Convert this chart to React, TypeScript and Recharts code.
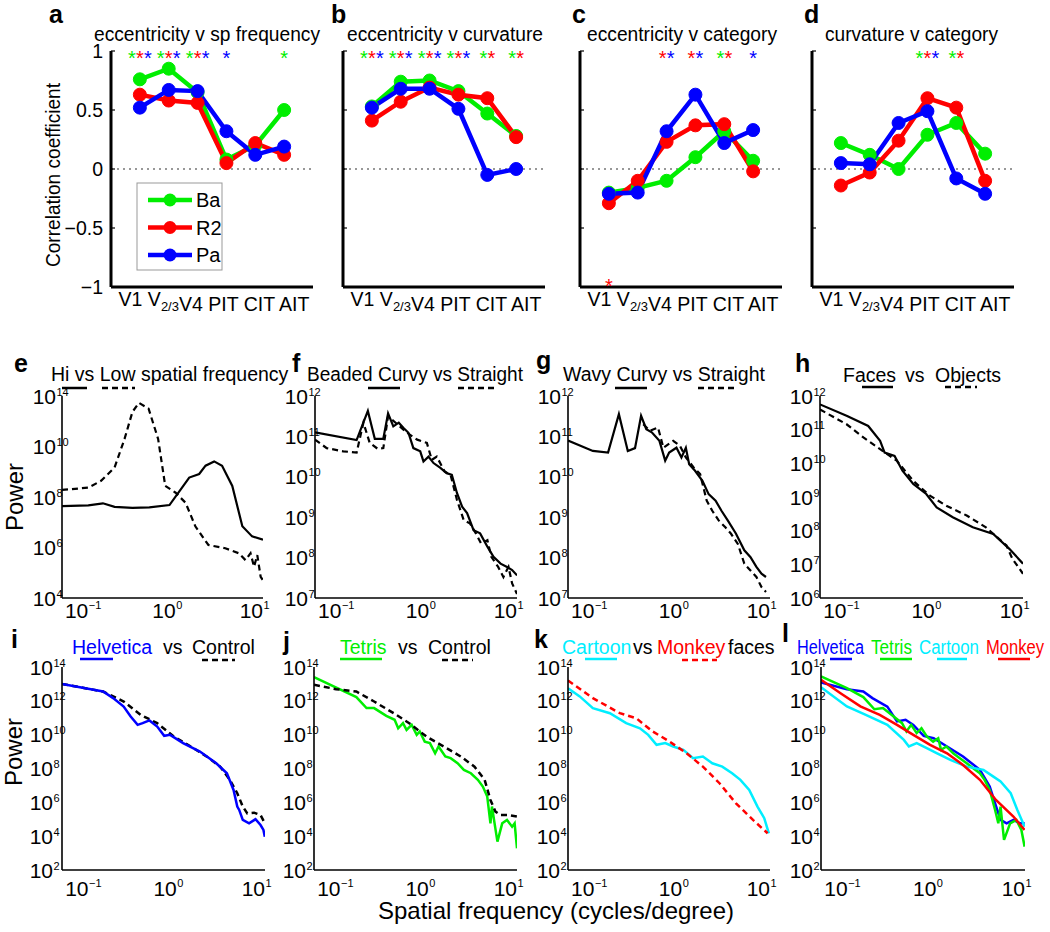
import React from 'react'
import { ComposedChart, LineChart, Line, Scatter, XAxis, YAxis, ReferenceLine } from 'recharts'

const FONT = '"Liberation Sans", Arial, Helvetica, sans-serif'
const GREEN = '#00ee00'
const RED = '#ff0000'
const BLUE = '#0000ff'
const CYAN = '#00eeff'
const BLACK = '#000000'

// ---------- a-d: correlation coefficient per visual area ----------
const areas = ['V1', 'V2/3', 'V4', 'PIT', 'CIT', 'AIT']
const corrTicks = [-1, -0.5, 0, 0.5, 1]
const corrTickLabels = ['\u22121', '\u22120.5', '0', '0.5', '1']
const monkeys = ['Ba', 'R2', 'Pa']

const aBa = [0.76, 0.85, 0.65, 0.08, 0.2, 0.5]
const aR2 = [0.63, 0.58, 0.56, 0.05, 0.22, 0.12]
const aPa = [0.52, 0.67, 0.66, 0.32, 0.12, 0.19]
const aStarsTop = ['GRB', 'GRB', 'GRB', 'B', '', 'G']
const aStarsBottom = ['', '', '', '', '', '']

const bBa = [0.53, 0.74, 0.75, 0.66, 0.47, 0.28]
const bR2 = [0.41, 0.57, 0.69, 0.63, 0.6, 0.27]
const bPa = [0.52, 0.68, 0.68, 0.51, -0.05, 0.0]
const bStarsTop = ['GRB', 'GRB', 'GRB', 'GRB', 'GR', 'GR']
const bStarsBottom = ['', '', '', '', '', '']

const cBa = [-0.2, -0.16, -0.1, 0.1, 0.32, 0.07]
const cR2 = [-0.29, -0.1, 0.23, 0.37, 0.38, -0.02]
const cPa = [-0.21, -0.2, 0.32, 0.63, 0.22, 0.33]
const cStarsTop = ['', '', 'RB', 'RB', 'GR', 'B']
const cStarsBottom = ['R', '', '', '', '', '']

const dBa = [0.22, 0.12, 0.0, 0.29, 0.39, 0.13]
const dR2 = [-0.14, -0.03, 0.24, 0.6, 0.52, -0.1]
const dPa = [0.05, 0.04, 0.39, 0.49, -0.08, -0.21]
const dStarsTop = ['', '', '', 'GRB', 'GR', '']
const dStarsBottom = ['', '', '', '', '', '']

// ---------- e-l: power spectra, [cycles/degree, log10 power] ----------
const freqTicks = [0.1, 1, 10]
const freqTickExps = ['\u22121', '0', '1']

const eYExps = [4, 6, 8, 10, 12]
const eYLabels = ['4', '6', '8', '10', '14']
const eHi = [[0.05, 7.64], [0.1, 7.67], [0.147, 7.75], [0.2, 7.61], [0.32, 7.57], [0.5, 7.59], [0.85, 7.68], [1.15, 8.31], [1.43, 8.77], [1.86, 8.91], [2.2, 9.24], [2.76, 9.41], [3.4, 9.24], [4.45, 8.44], [5.8, 6.84], [7.5, 6.44], [10, 6.31]]
const eLow = [[0.05, 8.28], [0.1, 8.37], [0.14, 8.64], [0.2, 9.17], [0.26, 10.3], [0.32, 11.37], [0.38, 11.73], [0.49, 11.5], [0.63, 10.3], [0.76, 8.44], [1.0, 8.17], [1.3, 7.77], [1.68, 6.84], [2.37, 6.1], [3.7, 5.97], [5.3, 5.77], [6.3, 5.5], [7.2, 5.77], [7.9, 5.24], [8.6, 5.7], [9.4, 4.84], [10, 4.7]]

const fgYExps = [7, 8, 9, 10, 11, 12]
const fgYLabels = ['7', '8', '9', '10', '11', '12']
const fCurvy = [[0.05, 11.1], [0.149, 10.91], [0.2, 11.63], [0.24, 10.94], [0.3, 10.94], [0.34, 11.57], [0.39, 11.25], [0.45, 11.34], [0.51, 11.21], [0.58, 11.09], [0.66, 10.71], [0.79, 10.63], [0.86, 10.38], [0.98, 10.5], [1.12, 10.34], [1.34, 10.22], [1.58, 10.09], [1.81, 10.05], [2.07, 9.6], [2.37, 9.26], [2.7, 9.1], [3.2, 8.68], [3.8, 8.6], [4.6, 8.27], [5.4, 8.02], [6.5, 7.85], [7.7, 7.77], [8.8, 7.69], [10, 7.56]]
const fStraight = [[0.05, 10.92], [0.068, 10.71], [0.105, 10.63], [0.149, 10.6], [0.178, 11.34], [0.21, 10.84], [0.26, 10.69], [0.3, 10.71], [0.34, 11.5], [0.56, 11.09], [0.73, 10.92], [0.94, 10.84], [1.07, 10.42], [1.22, 10.5], [1.5, 10.13], [1.75, 10.05], [2.07, 9.43], [2.47, 8.93], [2.9, 8.85], [3.4, 8.6], [3.9, 8.35], [4.6, 8.43], [5.1, 8.02], [6.1, 7.77], [7.0, 7.52], [8.0, 7.77], [8.8, 7.36], [10, 7.1]]
const gCurvy = [[0.05, 10.9], [0.096, 10.64], [0.143, 10.6], [0.19, 11.55], [0.24, 10.64], [0.29, 10.71], [0.34, 11.51], [0.39, 11.18], [0.45, 11.1], [0.55, 10.89], [0.64, 10.4], [0.71, 10.6], [0.86, 10.72], [0.98, 10.48], [1.1, 10.72], [1.2, 10.31], [1.4, 10.15], [1.7, 9.9], [2.0, 9.57], [2.4, 9.41], [2.8, 9.16], [3.3, 8.92], [4.1, 8.59], [5.1, 8.18], [6.0, 8.01], [7.0, 7.77], [8.0, 7.6], [9.0, 7.52]]
const gStraight = [[0.36, 11.3], [0.43, 11.14], [0.53, 11.22], [0.61, 10.72], [0.79, 10.89], [0.94, 10.77], [1.1, 10.48], [1.35, 10.23], [1.6, 10.07], [1.9, 9.41], [2.2, 9.16], [2.6, 8.92], [3.1, 8.75], [3.6, 8.59], [4.3, 8.34], [5.1, 7.85], [6.0, 7.68], [7.0, 7.52], [8.0, 7.27], [9.0, 7.15]]

const hYExps = [6, 7, 8, 9, 10, 11, 12]
const hYLabels = ['6', '7', '8', '9', '10', '11', '12']
const hFaces = [[0.05, 11.75], [0.1, 11.41], [0.176, 11.11], [0.24, 10.67], [0.27, 10.32], [0.35, 10.22], [0.43, 9.78], [0.57, 9.39], [0.8, 9.09], [1.05, 8.69], [1.6, 8.4], [2.7, 8.1], [4.6, 7.9], [7.0, 7.46], [10, 7.02]]
const hObjects = [[0.05, 11.6], [0.1, 11.16], [0.155, 10.77], [0.24, 10.42], [0.37, 10.08], [0.57, 9.48], [0.88, 9.04], [1.35, 8.74], [2.3, 8.45], [3.8, 8.1], [6.5, 7.56], [7.6, 7.16], [10, 6.72]]

const lowYExps = [2, 4, 6, 8, 10, 12, 14]
const lowYLabels = ['2', '4', '6', '8', '10', '12', '14']
const iHelvetica = [[0.05, 13.0], [0.146, 12.55], [0.19, 12.16], [0.25, 11.66], [0.3, 11.07], [0.36, 10.58], [0.41, 10.68], [0.49, 10.84], [0.6, 10.48], [0.72, 9.93], [0.84, 9.99], [1.18, 9.5], [1.83, 9.0], [2.8, 8.31], [3.7, 7.72], [4.4, 6.73], [4.85, 5.75], [5.1, 5.55], [5.6, 4.96], [6.6, 4.76], [7.8, 5.0], [8.9, 4.66], [9.6, 4.37], [9.95, 3.97]]
const iControl = [[0.05, 13.0], [0.146, 12.55], [0.25, 11.96], [0.39, 11.17], [0.6, 10.68], [0.93, 9.89], [1.44, 9.3], [2.2, 8.7], [3.1, 8.11], [4.0, 7.33], [4.85, 6.54], [5.6, 5.75], [6.3, 5.35], [7.5, 5.39], [8.9, 5.25], [9.95, 4.76]]
const jTetris = [[0.05, 13.4], [0.151, 12.22], [0.197, 11.57], [0.24, 11.57], [0.33, 11.11], [0.41, 10.88], [0.45, 10.38], [0.51, 10.68], [0.56, 10.28], [0.64, 10.58], [0.73, 9.99], [0.79, 10.19], [0.9, 9.59], [1.03, 9.5], [1.18, 8.9], [1.29, 9.3], [1.54, 8.71], [1.77, 8.61], [2.12, 8.31], [2.5, 7.92], [3.0, 7.72], [3.6, 7.33], [4.1, 6.93], [4.6, 6.34], [5.0, 4.76], [5.2, 5.75], [6.0, 3.68], [6.8, 4.76], [7.7, 4.96], [8.8, 4.56], [9.4, 4.76], [10, 3.28]]
const jControl = [[0.05, 12.95], [0.089, 12.69], [0.151, 12.55], [0.24, 11.96], [0.4, 11.27], [0.6, 10.68], [0.94, 9.89], [1.48, 9.3], [2.3, 8.71], [3.3, 8.11], [4.3, 7.33], [5.0, 6.14], [5.7, 5.45], [6.5, 5.25], [8.1, 5.25], [10, 5.16]]
const kCartoon = [[0.05, 12.75], [0.068, 12.26], [0.096, 11.57], [0.15, 11.27], [0.23, 10.68], [0.33, 10.38], [0.41, 9.99], [0.51, 9.4], [0.64, 9.5], [0.79, 9.3], [1.03, 9.1], [1.33, 8.61], [1.72, 8.71], [2.2, 8.31], [2.86, 8.11], [3.7, 7.72], [4.6, 7.33], [5.8, 6.73], [7.2, 5.75], [8.6, 5.06], [9.7, 4.17]]
const kMonkey = [[0.05, 13.2], [0.096, 12.16], [0.195, 11.27], [0.3, 10.97], [0.46, 10.19], [0.72, 9.59], [1.12, 8.9], [1.72, 8.11], [2.66, 7.13], [4.1, 5.94], [6.4, 4.96], [9.4, 4.17]]
const lHelvetica = [[0.05, 13.08], [0.098, 12.69], [0.15, 12.55], [0.19, 12.16], [0.28, 11.66], [0.36, 10.78], [0.45, 10.88], [0.55, 10.58], [0.72, 9.93], [0.93, 9.79], [1.32, 9.3], [2.0, 8.71], [3.1, 7.92], [4.0, 6.93], [4.6, 5.94], [5.3, 4.96], [6.2, 4.76], [7.4, 4.96], [8.8, 4.76], [9.9, 4.76]]
const lTetris = [[0.05, 13.44], [0.098, 12.75], [0.15, 12.22], [0.2, 11.5], [0.25, 11.57], [0.33, 11.07], [0.41, 10.68], [0.46, 10.19], [0.52, 10.58], [0.6, 10.09], [0.68, 10.38], [0.78, 9.89], [0.92, 9.59], [1.05, 9.79], [1.13, 9.1], [1.3, 9.3], [1.55, 8.9], [1.84, 8.61], [2.2, 8.31], [2.6, 8.01], [3.1, 7.72], [3.5, 7.33], [4.0, 6.73], [4.6, 5.55], [5.0, 4.76], [5.3, 5.75], [5.8, 3.78], [6.8, 4.76], [8.0, 4.96], [9.1, 4.37], [9.9, 3.38]]
const lCartoon = [[0.05, 12.8], [0.098, 11.67], [0.16, 11.17], [0.28, 10.58], [0.43, 9.69], [0.49, 9.3], [0.6, 9.5], [0.78, 9.2], [1.02, 8.9], [1.44, 8.51], [2.2, 8.11], [3.4, 7.92], [4.4, 7.52], [5.3, 7.23], [6.9, 6.54], [8.2, 5.55], [9.9, 4.56]]
const lMonkey = [[0.05, 13.24], [0.083, 12.45], [0.139, 11.67], [0.23, 11.17], [0.36, 10.58], [0.55, 9.99], [0.85, 9.4], [1.32, 8.9], [2.0, 8.21], [3.1, 7.33], [4.7, 6.14], [7.4, 5.16], [9.9, 4.37]]

// ---------- layout ----------
const starColors: Record<string, string> = { G: GREEN, R: RED, B: BLUE }
const STAR_Y = 0.965

const TW = 202
const TH = 236
const TTOP = 51
const TYW = 50
const TMT = 10
const TMR = 10
const TXH = 10

type TopProps = {
  left: number
  ba: number[]
  r2: number[]
  pa: number[]
  starsTop: string[]
  starsBottom: string[]
  yLabels: boolean
}

const starShape = (p: any) => {
  const s: string = p.payload.s
  const n = s.length
  return (
    <text y={p.cy + 10} fontFamily={FONT} fontSize={20} textAnchor="middle">
      {s.split('').map((c, i) => (
        <tspan key={i} x={p.cx + (i - (n - 1) / 2) * 8} fill={starColors[c]}>*</tspan>
      ))}
    </text>
  )
}

const corrTick = (p: any) => (
  <text x={TYW - 8} y={p.y + 7} textAnchor="end" fontFamily={FONT} fontSize={19.5} fill="#000">
    {corrTickLabels[corrTicks.indexOf(p.payload.value)]}
  </text>
)
const noTick = () => <g />

function TopPanel({ left, ba, r2, pa, starsTop, starsBottom, yLabels }: TopProps) {
  const rows = areas.map((_, i) => ({ x: i + 1, ba: ba[i], r2: r2[i], pa: pa[i] }))
  const stars = [
    ...starsTop.map((s, i) => ({ x: i + 1, y: STAR_Y, s })),
    ...starsBottom.map((s, i) => ({ x: i + 1, y: -STAR_Y, s })),
  ].filter((d) => d.s)
  const series = [
    { key: 'ba', color: GREEN },
    { key: 'r2', color: RED },
    { key: 'pa', color: BLUE },
  ]
  return (
    <div style={{ position: 'absolute', left: left - TYW, top: TTOP - TMT }}>
      <ComposedChart width={TYW + TW + TMR} height={TMT + TH + TXH} data={rows} margin={{ top: TMT, right: TMR, bottom: 0, left: 0 }}>
        <XAxis dataKey="x" type="number" domain={[0, 7]} ticks={[1, 2, 3, 4, 5, 6]} height={TXH} axisLine={{ stroke: '#000', strokeWidth: 3 }} tickLine={false} tick={false} />
        <YAxis
          type="number"
          domain={[-1, 1]}
          ticks={corrTicks}
          width={TYW}
          axisLine={{ stroke: '#000', strokeWidth: 3 }}
          tickLine={{ stroke: '#000', strokeWidth: 1.2 }}
          tickSize={-4}
          tick={yLabels ? corrTick : noTick}
          interval={0}
        />
        <ReferenceLine y={0} stroke="#333" strokeDasharray="2 4" strokeWidth={1.2} />
        {series.map((s) => (
          <Line
            key={s.key}
            dataKey={s.key}
            type="linear"
            stroke={s.color}
            strokeWidth={4.5}
            dot={{ r: 6.5, fill: s.color, stroke: s.color, strokeWidth: 1 }}
            isAnimationActive={false}
          />
        ))}
        <Scatter data={stars} dataKey="y" shape={starShape} isAnimationActive={false} />
      </ComposedChart>
    </div>
  )
}

type Curve = { pts: number[][]; color: string; dash?: boolean }
type LogProps = {
  left: number
  top: number
  w: number
  h: number
  yExps: number[]
  yLabels: string[]
  curves: Curve[]
  xGap: number
  yGap: number
  width: number
}

const LYW = 50
const LMT = 15
const LMR = 15
const LXH = 40

function LogPanel({ left, top, w, h, yExps, yLabels, curves, xGap, yGap, width }: LogProps) {
  const xTick = (p: any) => {
    const i = freqTicks.findIndex((t) => Math.abs(t - p.payload.value) < 1e-9)
    const base = LMT + h + xGap
    return (
      <g>
        <text x={p.x} y={base} textAnchor="end" fontFamily={FONT} fontSize={21} fill="#000">10</text>
        <text x={p.x + 0.5} y={base - 9} fontFamily={FONT} fontSize={11} fill="#000">{freqTickExps[i]}</text>
      </g>
    )
  }
  const yTick = (p: any) => {
    const e = Math.log10(p.payload.value)
    const i = yExps.findIndex((t) => Math.abs(t - e) < 0.01)
    const xr = LYW - yGap
    return (
      <g>
        <text x={xr} y={p.y + 7.5} textAnchor="end" fontFamily={FONT} fontSize={21} fill="#000">10</text>
        <text x={xr + 0.5} y={p.y - 0.5} fontFamily={FONT} fontSize={11} fill="#000">{yLabels[i]}</text>
      </g>
    )
  }
  return (
    <div style={{ position: 'absolute', left: left - LYW, top: top - LMT }}>
      <LineChart width={LYW + w + LMR} height={LMT + h + LXH} margin={{ top: LMT, right: LMR, bottom: 0, left: 0 }}>
        <XAxis dataKey="x" type="number" scale="log" domain={[0.05, 10]} allowDataOverflow ticks={freqTicks} interval={0} height={LXH} axisLine={{ stroke: '#000', strokeWidth: 1.6 }} tickLine={false} tick={xTick} />
        <YAxis type="number" scale="log" domain={[10 ** yExps[0], 10 ** yExps[yExps.length - 1]]} allowDataOverflow ticks={yExps.map((e) => 10 ** e)} interval={0} width={LYW} axisLine={{ stroke: '#000', strokeWidth: 1.6 }} tickLine={false} tick={yTick} />
        {curves.map((c, i) => (
          <Line
            key={i}
            data={c.pts.map(([x, e]) => ({ x, y: 10 ** e }))}
            dataKey="y"
            type="linear"
            stroke={c.color}
            strokeWidth={width}
            strokeDasharray={c.dash ? '6 4' : undefined}
            dot={false}
            isAnimationActive={false}
          />
        ))}
      </LineChart>
    </div>
  )
}

const topPanels: TopProps[] = [
  { left: 111, ba: aBa, r2: aR2, pa: aPa, starsTop: aStarsTop, starsBottom: aStarsBottom, yLabels: true },
  { left: 343, ba: bBa, r2: bR2, pa: bPa, starsTop: bStarsTop, starsBottom: bStarsBottom, yLabels: false },
  { left: 580, ba: cBa, r2: cR2, pa: cPa, starsTop: cStarsTop, starsBottom: cStarsBottom, yLabels: false },
  { left: 812, ba: dBa, r2: dR2, pa: dPa, starsTop: dStarsTop, starsBottom: dStarsBottom, yLabels: false },
]

const midPanels: LogProps[] = [
  { left: 62, top: 396, w: 201, h: 202, yExps: eYExps, yLabels: eYLabels, curves: [{ pts: eHi, color: BLACK }, { pts: eLow, color: BLACK, dash: true }], xGap: 20, yGap: 6, width: 2.2 },
  { left: 315, top: 396, w: 202, h: 202, yExps: fgYExps, yLabels: fgYLabels, curves: [{ pts: fCurvy, color: BLACK }, { pts: fStraight, color: BLACK, dash: true }], xGap: 20, yGap: 7, width: 2.2 },
  { left: 568, top: 396, w: 202, h: 202, yExps: fgYExps, yLabels: fgYLabels, curves: [{ pts: gCurvy, color: BLACK }, { pts: gStraight, color: BLACK, dash: true }], xGap: 20, yGap: 7, width: 2.2 },
  { left: 820, top: 396, w: 203, h: 202, yExps: hYExps, yLabels: hYLabels, curves: [{ pts: hFaces, color: BLACK }, { pts: hObjects, color: BLACK, dash: true }], xGap: 20, yGap: 7, width: 2.2 },
]

const lowPanels: LogProps[] = [
  { left: 62, top: 667, w: 203, h: 203, yExps: lowYExps, yLabels: lowYLabels, curves: [{ pts: iControl, color: BLACK, dash: true }, { pts: iHelvetica, color: BLUE }], xGap: 26, yGap: 9, width: 2.5 },
  { left: 314, top: 667, w: 203, h: 203, yExps: lowYExps, yLabels: lowYLabels, curves: [{ pts: jTetris, color: GREEN }, { pts: jControl, color: BLACK, dash: true }], xGap: 26, yGap: 8, width: 2.5 },
  { left: 568, top: 667, w: 202, h: 203, yExps: lowYExps, yLabels: lowYLabels, curves: [{ pts: kCartoon, color: CYAN }, { pts: kMonkey, color: RED, dash: true }], xGap: 26, yGap: 8, width: 2.5 },
  { left: 821, top: 667, w: 204, h: 203, yExps: lowYExps, yLabels: lowYLabels, curves: [{ pts: lHelvetica, color: BLUE }, { pts: lTetris, color: GREEN }, { pts: lCartoon, color: CYAN }, { pts: lMonkey, color: RED }], xGap: 26, yGap: 8, width: 2.5 },
]

// text helpers for the overlay
const T = ({ x, y, s = 19.5, fill = '#000', w, anchor, bold, children }: any) => (
  <text x={x} y={y} fontSize={s} fill={fill} fontFamily={FONT} fontWeight={bold ? 700 : 400} textAnchor={anchor} textLength={w} lengthAdjust={w ? 'spacingAndGlyphs' : undefined}>
    {children}
  </text>
)
const U = ({ x1, x2, y, color = '#000', dash }: any) => (
  <line x1={x1} x2={x2} y1={y} y2={y} stroke={color} strokeWidth={2.5} strokeDasharray={dash ? '6 4' : undefined} />
)

function AreaLabel({ cx }: { cx: number }) {
  return (
    <text x={cx} y={306} textAnchor="middle" fontFamily={FONT} fontSize={19.5} fill="#000">
      {areas.map((a, i) => {
        const sep = i === 0 ? '' : ' '
        if (a.includes('/')) {
          return (
            <React.Fragment key={a}>
              <tspan>{sep + a[0]}</tspan>
              <tspan fontSize={13} dy={5}>{a.slice(1)}</tspan>
              <tspan dy={-5}>{''}</tspan>
            </React.Fragment>
          )
        }
        return <tspan key={a}>{(areas[i - 1] || '').includes('/') ? a : sep + a}</tspan>
      })}
    </text>
  )
}

const legendColors = [GREEN, RED, BLUE]

export default function App() {
  return (
    <div style={{ position: 'relative', width: 1050, height: 932, background: '#fff', overflow: 'hidden' }}>
      <style>{'body{margin:0}'}</style>
      {topPanels.map((p, i) => <TopPanel key={i} {...p} />)}
      {midPanels.map((p, i) => <LogPanel key={i} {...p} />)}
      {lowPanels.map((p, i) => <LogPanel key={i} {...p} />)}
      <svg width={1050} height={932} style={{ position: 'absolute', left: 0, top: 0, pointerEvents: 'none' }}>
        {/* panel letters */}
        <T x={49} y={23} s={25} bold>a</T>
        <T x={331} y={23} s={25} bold>b</T>
        <T x={572} y={23} s={25} bold>c</T>
        <T x={804} y={23} s={25} bold>d</T>
        <T x={14} y={372} s={25} bold>e</T>
        <T x={292} y={372} s={25} bold>f</T>
        <T x={536} y={369} s={25} bold>g</T>
        <T x={795} y={372} s={25} bold>h</T>
        <T x={11} y={648} s={25} bold>i</T>
        <T x={283} y={650} s={25} bold>j</T>
        <T x={534} y={648} s={25} bold>k</T>
        <T x={782} y={642} s={25} bold>l</T>

        {/* top row */}
        <T x={94} y={41} w={226}>eccentricity v sp frequency</T>
        <T x={347} y={41} w={196}>eccentricity v curvature</T>
        <T x={587} y={41} w={190}>eccentricity v category</T>
        <T x={825} y={41} w={173}>curvature v category</T>
        {topPanels.map((p, i) => <AreaLabel key={i} cx={p.left + TW / 2 + 2} />)}
        <g transform="translate(60,175) rotate(-90)">
          <T x={0} y={0} anchor="middle" w={184}>Correlation coefficient</T>
        </g>
        <rect x={137} y={183} width={85} height={87} fill="#fff" stroke="#999" strokeWidth={1} />
        {monkeys.map((m, i) => (
          <g key={m}>
            <line x1={148} x2={192} y1={200 + i * 27.5} y2={200 + i * 27.5} stroke={legendColors[i]} strokeWidth={4.5} />
            <circle cx={170} cy={200 + i * 27.5} r={6.5} fill={legendColors[i]} />
            <T x={196} y={207 + i * 27.5} s={20}>{m}</T>
          </g>
        ))}

        {/* middle row */}
        <T x={51} y={381}>Hi vs Low spatial frequency</T>
        <U x1={62} x2={87} y={388} />
        <U x1={102} x2={135} y={388} dash />
        <T x={307} y={381} w={216}>Beaded Curvy vs Straight</T>
        <U x1={368} x2={400} y={388} />
        <U x1={458} x2={498} y={388} dash />
        <T x={563} y={381}>Wavy Curvy vs Straight</T>
        <U x1={615} x2={647} y={388} />
        <U x1={698} x2={737} y={388} dash />
        <T x={843} y={382}>Faces</T>
        <T x={905} y={382}>vs</T>
        <T x={935} y={382}>Objects</T>
        <U x1={862} x2={893} y={387} />
        <U x1={945} x2={977} y={387} dash />
        <g transform="translate(23,497) rotate(-90)">
          <T x={0} y={0} s={24} anchor="middle">Power</T>
        </g>

        {/* bottom row */}
        <T x={72} y={654} fill={BLUE}>Helvetica</T>
        <T x={163} y={654}>vs</T>
        <T x={192} y={654}>Control</T>
        <U x1={80} x2={113} y={659} color={BLUE} />
        <U x1={202} x2={235} y={660} dash />
        <T x={340} y={654} fill={GREEN}>Tetris</T>
        <T x={398} y={654}>vs</T>
        <T x={428} y={654}>Control</T>
        <U x1={340} x2={382} y={659} color={GREEN} />
        <U x1={442} x2={473} y={660} dash />
        <T x={562} y={654} fill={CYAN}>Cartoon</T>
        <T x={633} y={654}>vs</T>
        <T x={657} y={654} fill={RED}>Monkey</T>
        <T x={728} y={654}>faces</T>
        <U x1={585} x2={617} y={659} color={CYAN} />
        <U x1={682} x2={717} y={660} color={RED} dash />
        <T x={797} y={654} fill={BLUE} w={67}>Helvetica</T>
        <T x={871} y={654} fill={GREEN} w={41}>Tetris</T>
        <T x={919} y={654} fill={CYAN} w={60}>Cartoon</T>
        <T x={986} y={654} fill={RED} w={58}>Monkey</T>
        <U x1={830} x2={852} y={659} color={BLUE} />
        <U x1={880} x2={912} y={659} color={GREEN} />
        <U x1={937} x2={967} y={659} color={CYAN} />
        <U x1={998} x2={1030} y={659} color={RED} />
        <g transform="translate(22,752) rotate(-90)">
          <T x={0} y={0} s={24} anchor="middle">Power</T>
        </g>
        <T x={378} y={919} s={24} w={356}>Spatial frequency (cycles/degree)</T>
      </svg>
    </div>
  )
}
